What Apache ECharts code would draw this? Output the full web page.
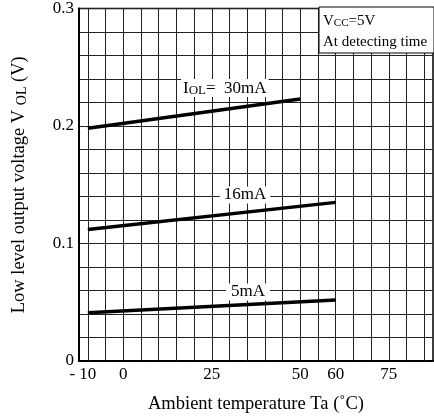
<!DOCTYPE html>
<html lang="en">

<head>
    <meta charset="UTF-8">
    <title>Low level output voltage vs ambient temperature</title>
    <script src="https://cdn.jsdelivr.net/npm/echarts@6/dist/echarts.min.js"></script>
    <style>
        body,
        html {
            margin: 0;
            padding: 0;
            background: #fff;
        }

        #main {
            width: 434px;
            height: 419px;
        }
    </style>
</head>

<body>
    <div id="main"></div>
    <script>
        // data
        var temp30 = [-10, 50];
        var volt30 = [0.198, 0.223];
        var temp16 = [-10, 60];
        var volt16 = [0.112, 0.135];
        var temp5 = [-10, 60];
        var volt5 = [0.041, 0.052];

        // axis ticks
        var xLabels = [-10, 0, 25, 50, 60, 75];
        var xGrid = [-10, -5, 0, 5, 10, 15, 20, 25, 30, 35, 40, 45, 50, 55, 60, 65, 70, 75, 80, 85];
        var yLabels = [0, 0.1, 0.2, 0.3];

        var font = 'Liberation Serif';

        function pairs(xs, ys) {
            var out = [];
            for (var i = 0; i < xs.length; i++) {
                out.push([xs[i], ys[i]]);
            }
            return out;
        }

        function curve(xs, ys) {
            return {
                type: 'line',
                data: pairs(xs, ys),
                symbol: 'none',
                z: 5,
                lineStyle: { color: '#000', width: 3.5 },
                silent: true
            };
        }

        // big text + small-caps subscript
        function subRich(big, small, color) {
            return {
                a: { fontFamily: font, fontSize: big, fill: color, color: color, lineHeight: big + 1, verticalAlign: 'bottom' },
                b: { fontFamily: font, fontSize: small, fill: color, color: color, lineHeight: small + 1, verticalAlign: 'bottom' }
            };
        }

        var myChart = echarts.init(document.getElementById('main'));
        var option = {
            animation: false,
            grid: {
                left: 79,
                right: 1,
                top: 7,
                bottom: 57,
                show: true,
                borderColor: '#000',
                borderWidth: 1.5
            },
            xAxis: {
                type: 'value',
                min: -12.5,
                max: 87.5,
                splitLine: { show: false },
                axisTick: { show: false },
                axisLine: { onZero: false, lineStyle: { color: '#000', width: 2 } },
                axisLabel: {
                    customValues: xLabels,
                    margin: 5,
                    color: '#000',
                    fontFamily: font,
                    fontSize: 17,
                    formatter: function (v) {
                        if (v == -10) return '{m|- 10}';
                        return String(v);
                    },
                    rich: {
                        m: { fontFamily: font, fontSize: 17, color: '#000', padding: [0, 10, 0, 0] }
                    }
                },
                name: 'Ambient temperature Ta (˚C)',
                nameLocation: 'middle',
                nameGap: 34,
                nameTextStyle: { color: '#000', fontFamily: font, fontSize: 18.5 }
            },
            yAxis: {
                type: 'value',
                min: 0,
                max: 0.3,
                interval: 0.02,
                axisTick: { show: false },
                axisLine: { onZero: false, lineStyle: { color: '#000', width: 2 } },
                splitLine: { lineStyle: { color: '#222', width: 1 } },
                axisLabel: {
                    customValues: yLabels,
                    margin: 5,
                    color: '#000',
                    fontFamily: font,
                    fontSize: 17,
                    formatter: function (v) {
                        if (Math.abs(v * 10 - Math.round(v * 10)) > 1e-6) return '';
                        return v == 0 ? '0' : v.toFixed(1);
                    }
                },
                name: '{a|Low level output voltage V }{b|OL}{a| (V)}',
                nameLocation: 'middle',
                nameRotate: 90,
                nameGap: 50,
                nameTextStyle: { rich: subRich(18.5, 14, '#000') }
            },
            series: [
                {
                    // vertical grid lines every 5 degrees
                    type: 'line',
                    data: [],
                    z: 1,
                    silent: true,
                    markLine: {
                        silent: true,
                        symbol: 'none',
                        label: { show: false },
                        lineStyle: { color: '#222', width: 1, type: 'solid' },
                        data: xGrid.map(function (t) { return { xAxis: t }; })
                    }
                },
                curve(temp30, volt30),
                curve(temp16, volt16),
                curve(temp5, volt5)
            ],
            graphic: [
                {
                    type: 'rect',
                    z: 10,
                    shape: { x: 319, y: 7, width: 115, height: 46 },
                    style: { fill: '#fff', stroke: '#000', lineWidth: 1 }
                },
                {
                    type: 'text',
                    z: 11,
                    x: 323,
                    y: 21,
                    style: {
                        text: '{a|V}{b|CC}{a|=5V}',
                        verticalAlign: 'middle',
                        rich: subRich(15, 11, '#000')
                    }
                },
                {
                    type: 'text',
                    z: 11,
                    x: 323,
                    y: 42,
                    style: {
                        text: 'At detecting time',
                        verticalAlign: 'middle',
                        font: '15px "Liberation Serif"',
                        fill: '#000'
                    }
                },
                {
                    type: 'text',
                    z: 11,
                    x: 181,
                    y: 88,
                    style: {
                        text: '{a|I}{b|OL}{a|=  30mA}',
                        verticalAlign: 'middle',
                        backgroundColor: '#fff',
                        padding: [0, 2],
                        rich: subRich(17, 13, '#000')
                    }
                },
                {
                    type: 'text',
                    z: 11,
                    x: 245,
                    y: 195,
                    style: {
                        text: '16mA',
                        align: 'center',
                        verticalAlign: 'middle',
                        font: '17px "Liberation Serif"',
                        fill: '#000',
                        backgroundColor: '#fff',
                        padding: [0, 4]
                    }
                },
                {
                    type: 'text',
                    z: 11,
                    x: 248,
                    y: 292,
                    style: {
                        text: '5mA',
                        align: 'center',
                        verticalAlign: 'middle',
                        font: '17px "Liberation Serif"',
                        fill: '#000',
                        backgroundColor: '#fff',
                        padding: [0, 5]
                    }
                }
            ]
        };
        myChart.setOption(option);
    </script>
</body>

</html>
